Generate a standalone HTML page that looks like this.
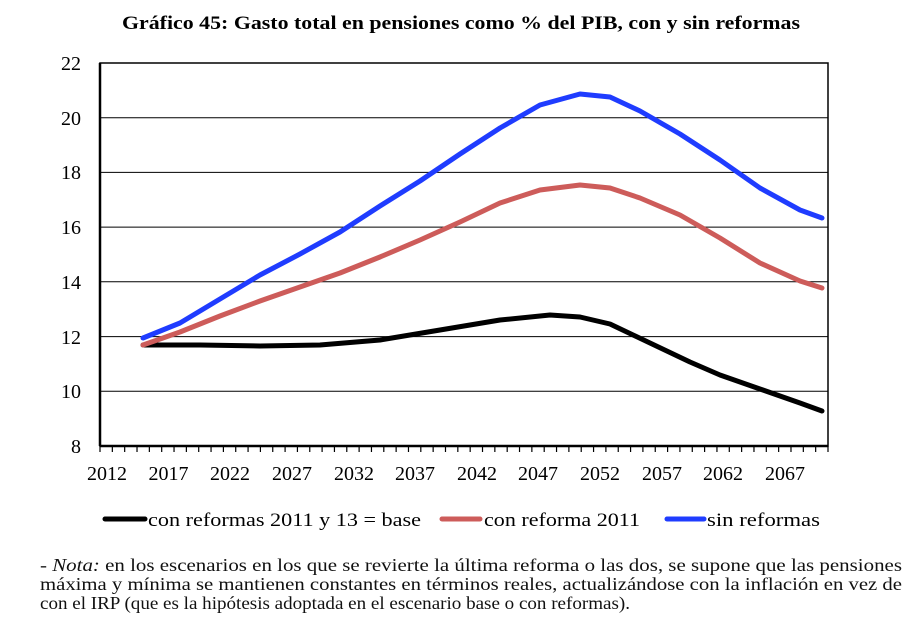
<!DOCTYPE html>
<html><head><meta charset="utf-8"><style>
body{margin:0;width:911px;height:625px;background:#fff;overflow:hidden;font-family:"Liberation Serif",serif;}
</style></head><body>
<svg width="911" height="625" style="position:absolute;left:0;top:0" font-family="Liberation Serif, serif">
<text x="122" y="29" font-size="19" font-weight="bold" textLength="678" lengthAdjust="spacingAndGlyphs">Gráfico 45: Gasto total en pensiones como % del PIB, con y sin reformas</text>
<g stroke="#000" stroke-width="1">
<line x1="100" y1="117.7" x2="828" y2="117.7"/><line x1="100" y1="172.4" x2="828" y2="172.4"/>
<line x1="100" y1="227.1" x2="828" y2="227.1"/><line x1="100" y1="281.8" x2="828" y2="281.8"/>
<line x1="100" y1="336.6" x2="828" y2="336.6"/><line x1="100" y1="391.3" x2="828" y2="391.3"/>
</g>
<rect x="100" y="63" width="728" height="383" fill="none" stroke="#000" stroke-width="1.5"/>
<line x1="100" y1="63" x2="100" y2="446" stroke="#000" stroke-width="2.5"/>
<line x1="100" y1="446" x2="828" y2="446" stroke="#000" stroke-width="2.5"/>
<g id="ticks" stroke="#000" stroke-width="1.2"></g>
<g font-size="20" text-anchor="end">
<text x="81" y="70">22</text><text x="81" y="125">20</text><text x="81" y="179">18</text><text x="81" y="234">16</text><text x="81" y="289">14</text><text x="81" y="344">12</text><text x="81" y="398">10</text><text x="81" y="453">8</text>
</g>
<g font-size="20" text-anchor="middle">
<text x="107" y="480">2012</text><text x="168.5" y="480">2017</text><text x="230" y="480">2022</text><text x="292" y="480">2027</text><text x="354" y="480">2032</text><text x="415" y="480">2037</text><text x="477" y="480">2042</text><text x="538" y="480">2047</text><text x="600" y="480">2052</text><text x="662" y="480">2057</text><text x="723" y="480">2062</text><text x="785" y="480">2067</text>
</g>
<g fill="none" stroke-width="5" stroke-linejoin="round" stroke-linecap="round">
<polyline stroke="#000" points="143,345 200,345 260,346 320,345 380,340 440,330 500,320 550,315 580,317 610,324 650,343 690,362 720,375 760,389 800,403 822,411"/>
<polyline stroke="#cd5c5a" points="143,345 180,332 220,316 260,301 300,287 340,273 380,257 420,240 460,222 500,203 540,190 580,185 610,188 640,198 680,215 720,238 760,263 800,281 822,288"/>
<polyline stroke="#1f3cff" points="143,338 180,323 220,299 260,275 300,254 340,232 380,206 420,181 460,154 500,128 540,105 580,94 610,97 640,111 680,134 720,160 760,188 800,210 822,218"/>
</g>
<g font-size="19">
<line x1="105" y1="519" x2="145" y2="519" stroke="#000" stroke-width="5" stroke-linecap="round"/>
<text x="148" y="526" textLength="273" lengthAdjust="spacingAndGlyphs">con reformas 2011 y 13 = base</text>
<line x1="442" y1="519" x2="480" y2="519" stroke="#cd5c5a" stroke-width="5" stroke-linecap="round"/>
<text x="484" y="526" textLength="156" lengthAdjust="spacingAndGlyphs">con reforma 2011</text>
<line x1="667" y1="519" x2="704" y2="519" stroke="#1f3cff" stroke-width="5" stroke-linecap="round"/>
<text x="707" y="526" textLength="113" lengthAdjust="spacingAndGlyphs">sin reformas</text>
</g>
<g font-size="18" fill="#111">
<text x="40" y="571" textLength="862" lengthAdjust="spacingAndGlyphs">- <tspan font-style="italic">Nota:</tspan> en los escenarios en los que se revierte la última reforma o las dos, se supone que las pensiones</text>
<text x="40" y="590" textLength="862" lengthAdjust="spacingAndGlyphs">máxima y mínima se mantienen constantes en términos reales, actualizándose con la inflación en vez de</text>
<text x="40" y="609" textLength="590" lengthAdjust="spacingAndGlyphs">con el IRP (que es la hipótesis adoptada en el escenario base o con reformas).</text>
</g>
</svg>
<script>
var g=document.getElementById('ticks'),s='';
for(var i=0;i<=59;i++){var x=100+i*728/59;s+='<line x1="'+x+'" y1="446" x2="'+x+'" y2="452"/>';}
g.innerHTML=s;
</script>
</body></html>
